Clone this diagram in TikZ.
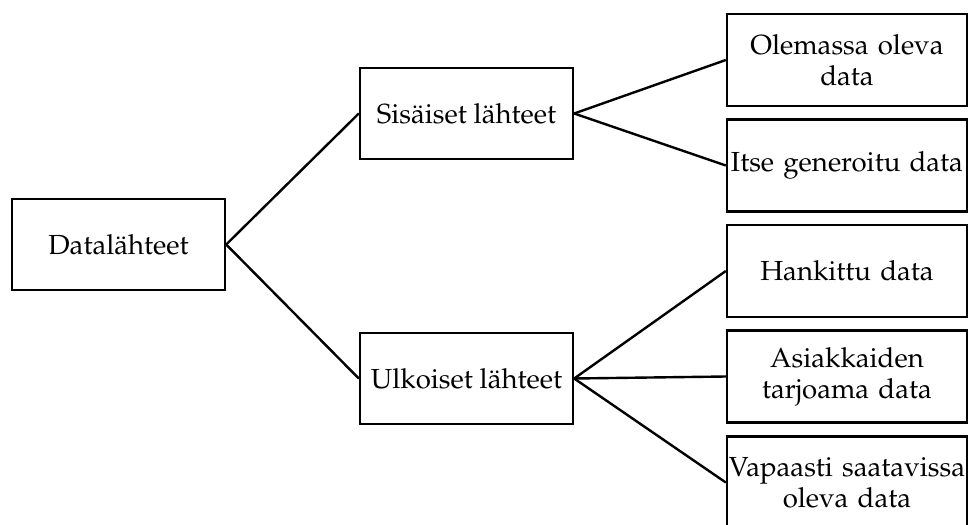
\documentclass[tikz,border=0pt]{standalone}
\usepackage[T1]{fontenc}
\usepackage{mathpazo}
\begin{document}
\begin{tikzpicture}[x=0.5pt,y=-0.5pt,
    box/.style={draw,line width=1.2pt,inner xsep=0pt,align=center,
        font=\fontsize{13.8}{15.5}\selectfont},
    srcbox/.style={box,minimum width=106.5pt,minimum height=45.5pt},
    kindbox/.style={box,minimum width=106.5pt,minimum height=45.5pt},
    databox/.style={box,text width=120pt,minimum height=46pt},
    link/.style={line width=1.2pt}]
    \useasboundingbox (0,0) rectangle (970,525);
    \node[srcbox] (src) at (118.5,244.5) {Datal\"ahteet};
    \node[kindbox] (int) at (466.5,113.5) {Sis\"aiset l\"ahteet};
    \node[kindbox] (ext) at (466.5,378.5) {Ulkoiset l\"ahteet};
    \node[databox] (old) at (847,60) {Olemassa oleva\\data};
    \node[databox] (own) at (847,165.5) {Itse generoitu data};
    \node[databox] (bought) at (847,271) {Hankittu data};
    \node[databox] (cust) at (847,376.5) {Asiakkaiden\\tarjoama data};
    \node[databox] (free) at (847,482.5) {Vapaasti saatavissa\\oleva data};
    \draw[link] (src.east) -- (int.west);
    \draw[link] (src.east) -- (ext.west);
    \foreach \t in {old,own}
        \draw[link] (int.east) -- (\t.west);
    \foreach \t in {bought,cust,free}
        \draw[link] (ext.east) -- (\t.west);
\end{tikzpicture}
\end{document}
